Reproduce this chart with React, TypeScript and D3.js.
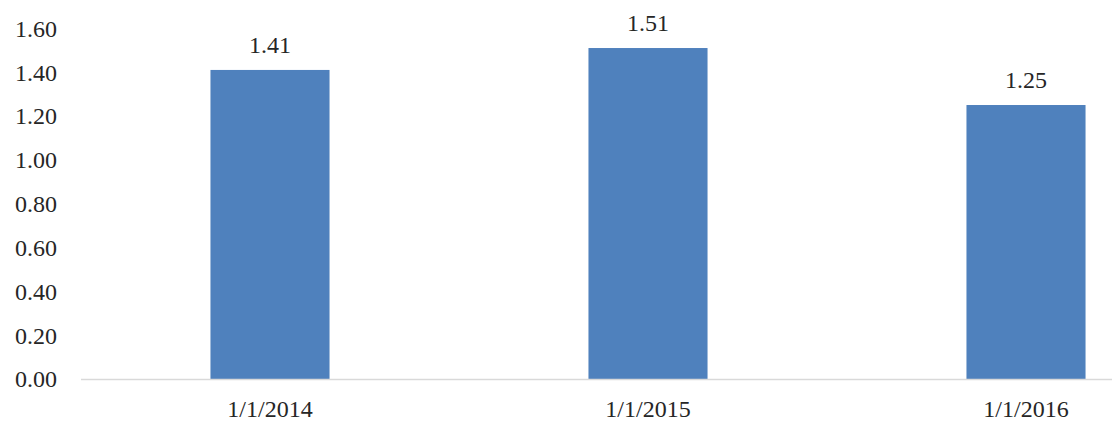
import React from "react";
import * as d3 from "d3";

const categories = ["1/1/2014", "1/1/2015", "1/1/2016"];
const values = [1.41, 1.51, 1.25];
const valueLabels = ["1.41", "1.51", "1.25"];
const yTicks = [0, 0.2, 0.4, 0.6, 0.8, 1.0, 1.2, 1.4, 1.6];

const W = 1112;
const H = 421;

export default function App() {
  const x = d3
    .scaleBand<string>()
    .domain(categories)
    .range([81, 1215])
    .paddingInner(0.685)
    .paddingOuter(0.3425);
  const y = d3.scaleLinear().domain([0, 1.6]).range([379, 28.3]);
  const font = "'Liberation Serif', 'Times New Roman', serif";
  const fs = 24;
  return (
    <svg
      width={W}
      height={H}
      style={{ position: "absolute", left: 0, top: 0, background: "#fff" }}
    >
      {yTicks.map((t) => (
        <text
          key={t}
          x={57}
          y={y(t)}
          dy="0.35em"
          textAnchor="end"
          fontFamily={font}
          fontSize={fs}
          fill="#262626"
        >
          {t.toFixed(2)}
        </text>
      ))}
      {categories.map((c, i) => (
        <g key={c}>
          <rect
            x={x(c)}
            y={y(values[i])}
            width={x.bandwidth()}
            height={y(0) - y(values[i])}
            fill="#4f81bd"
          />
          <text
            x={(x(c) as number) + x.bandwidth() / 2}
            y={y(values[i]) - 17}
            textAnchor="middle"
            fontFamily={font}
            fontSize={fs}
            fill="#262626"
          >
            {valueLabels[i]}
          </text>
          <text
            x={(x(c) as number) + x.bandwidth() / 2}
            y={417}
            textAnchor="middle"
            fontFamily={font}
            fontSize={fs}
            fill="#262626"
          >
            {c}
          </text>
        </g>
      ))}
      <line x1={81} x2={W} y1={y(0) + 0.5} y2={y(0) + 0.5} stroke="#d9d9d9" strokeWidth={1.5} />
    </svg>
  );
}
